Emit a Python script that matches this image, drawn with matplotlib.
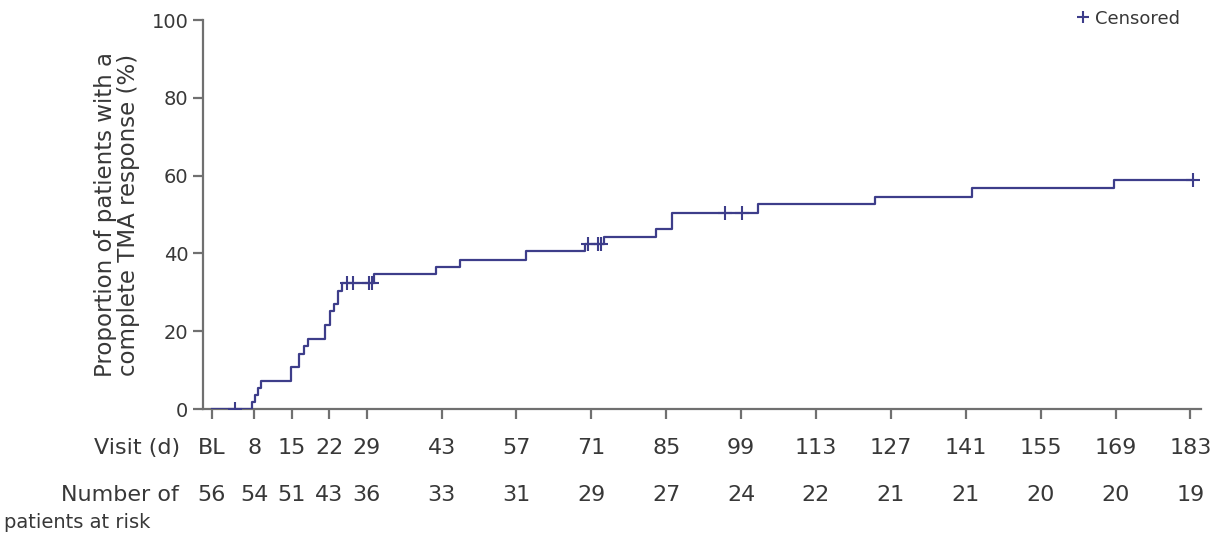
import matplotlib
matplotlib.use("Agg")
import matplotlib.pyplot as plt
from matplotlib.lines import Line2D
from matplotlib.transforms import blended_transform_factory

plt.rcParams["font.family"] = ["DejaVu Sans"]

# Kaplan-Meier style cumulative response (days, % responders)
event_days = [0, 7.5, 8.1, 8.7, 9.3, 14.8, 16.3, 17.3, 18.0, 21.3, 22.1, 22.9, 23.7,
              24.4, 30.4, 41.9, 46.5, 58.7, 69.8, 73.3, 83.0, 86.1, 102.1, 124.1,
              142.2, 168.8]
event_pct = [0, 1.8, 3.6, 5.4, 7.1, 10.7, 14.1, 16.2, 18.0, 21.6, 25.2, 27.0, 30.4,
             32.5, 34.7, 36.5, 38.4, 40.5, 42.4, 44.3, 46.3, 50.3, 52.8, 54.6,
             56.8, 58.9]
last_day = 183.5

censor_days = [4.4, 25.4, 26.5, 29.4, 30.0, 70.4, 72.2, 72.9, 96.0, 99.1, 183.5]
censor_pct = [0, 32.5, 32.5, 32.5, 32.5, 42.4, 42.4, 42.4, 50.3, 50.3, 58.9]

visit_days = [0, 8, 15, 22, 29, 43, 57, 71, 85, 99, 113, 127, 141, 155, 169, 183]
visit_labels = ["BL", "8", "15", "22", "29", "43", "57", "71", "85", "99", "113",
                "127", "141", "155", "169", "183"]
at_risk = [56, 54, 51, 43, 36, 33, 31, 29, 27, 24, 22, 21, 21, 20, 20, 19]

line_color = "#3d3d8a"
axis_color = "#707070"
text_color = "#383838"

fig = plt.figure(figsize=(12.12, 5.35), dpi=100)
ax = fig.add_axes([0.1675, 0.2355, 0.8235, 0.727])

xs = event_days + [last_day]
ys = event_pct + [event_pct[-1]]
ax.step(xs, ys, where="post", color=line_color, lw=1.6, zorder=3)
ax.plot(censor_days, censor_pct, ls="none", marker="+", ms=10, mew=1.5,
        color=line_color, zorder=4)

ax.set_xlim(-1.6, 185)
ax.set_ylim(0, 100)
ax.set_yticks([0, 20, 40, 60, 80, 100])
ax.set_xticks(visit_days)
ax.set_xticklabels([])

for side in ["top", "right"]:
    ax.spines[side].set_visible(False)
for side in ["left", "bottom"]:
    ax.spines[side].set_color(axis_color)
    ax.spines[side].set_linewidth(1.6)
ax.tick_params(axis="both", colors=axis_color, width=1.6, length=7,
               labelcolor=text_color, labelsize=14)

ax.set_ylabel("Proportion of patients with a\ncomplete TMA response (%)",
              fontsize=16.5, color=text_color, labelpad=8, linespacing=1.0)

# Risk table below the axis
trans = blended_transform_factory(ax.transData, fig.transFigure)
for d, lab, n in zip(visit_days, visit_labels, at_risk):
    ax.text(d, 0.162, lab, transform=trans, ha="center", va="center",
            fontsize=16, color=text_color, clip_on=False)
    ax.text(d, 0.074, str(n), transform=trans, ha="center", va="center",
            fontsize=16, color=text_color, clip_on=False)

fig.text(180 / 1212, 0.162, "Visit (d)", ha="right", va="center",
         fontsize=16, color=text_color)
fig.text(179 / 1212, 0.074, "Number of", ha="right", va="center",
         fontsize=16, color=text_color)
fig.text(4 / 1212, 0.024, "patients at risk", ha="left", va="center",
         fontsize=14, color=text_color)

handle = Line2D([], [], ls="none", marker="+", ms=8, mew=1.5, color=line_color)
leg = ax.legend([handle], ["Censored"], loc="upper right", frameon=False,
                fontsize=13, handletextpad=0.15, handlelength=1.0,
                borderaxespad=0.0, bbox_to_anchor=(0.986, 1.045))
for t in leg.get_texts():
    t.set_color(text_color)

fig.savefig("out.png", dpi=100, facecolor="white")
